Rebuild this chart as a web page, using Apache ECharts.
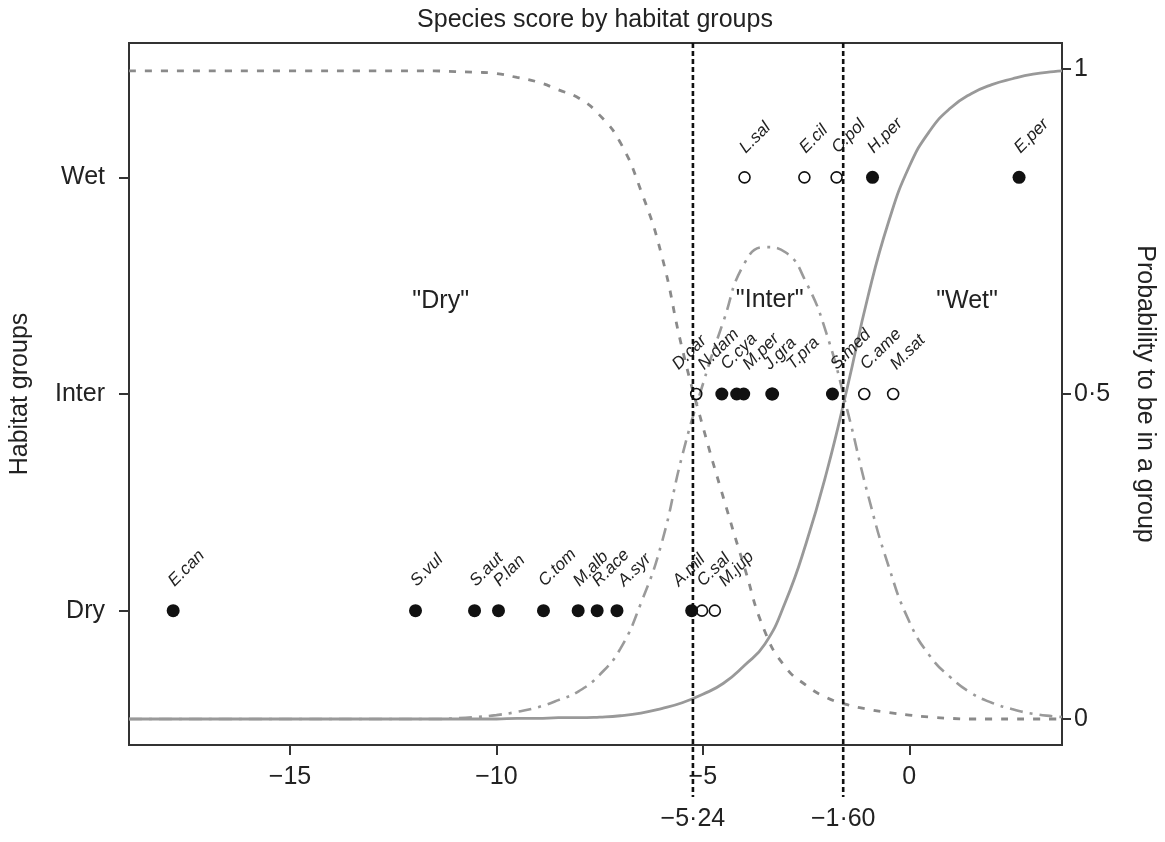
<!DOCTYPE html>
<html>
<head>
<meta charset="utf-8">
<script src="https://cdn.jsdelivr.net/npm/echarts@6/dist/echarts.min.js"></script>
<style>html,body{margin:0;padding:0;background:#fff}#c{width:1165px;height:842px}</style>
</head>
<body>
<div id="c"></div>
<script>
// ---------------- data ----------------
const groupNames = ['Dry', 'Inter', 'Wet'];
const groupLevel = [1 / 6, 0.5, 5 / 6];

const dryNames  = ['E.can','S.vul','S.aut','P.lan','C.tom','M.alb','R.ace','A.syr','A.mil','C.sal','M.jup'];
const dryScore  = [-17.83,-11.96,-10.53,-9.95,-8.86,-8.02,-7.56,-7.08,-5.27,-5.02,-4.71];
const dryFilled = [1,1,1,1,1,1,1,1,1,0,0];

const interNames  = ['D.car','N.dam','C.cya','M.per','J.gra','T.pra','S.med','C.ame','M.sat'];
const interScore  = [-5.16,-4.54,-4.18,-4.01,-3.33,-3.31,-1.86,-1.09,-0.39];
const interFilled = [0,1,1,1,1,1,1,0,0];

const wetNames  = ['L.sal','E.cil','C.pol','H.per','E.per'];
const wetScore  = [-3.99,-2.54,-1.76,-0.89,2.66];
const wetFilled = [0,0,0,1,1];

const cutPoints = [-5.24, -1.60];
const cutLabels = ['\u22125\u00b724', '\u22121\u00b760'];

const xTicks = [-15, -10, -5, 0];
const xTickLabels = ['\u221215', '\u221210', '\u22125', '0'];
const probTicks = [0, 0.5, 1];
const probTickLabels = ['0', '0\u00b75', '1'];

const curveX    = [-18.9,-15,-13,-11.5,-11,-10.5,-10,-9.5,-9,-8.5,-8,-7.5,-7,-6.5,-6,-5.5,-5,-4.5,-4,-3.5,-3,-2.5,-2,-1.5,-1,-0.5,0,0.5,1,1.5,2,2.5,3,3.5,3.7];
const probDry   = [0.997,0.997,0.997,0.997,0.996,0.995,0.993,0.987,0.98,0.968,0.955,0.929,0.887,0.813,0.714,0.57,0.45,0.34,0.235,0.135,0.08,0.052,0.033,0.022,0.015,0.01,0.006,0.003,0.001,0,0,0,0,0,0];
const probInter = [0,0,0,0,0.001,0.003,0.006,0.011,0.018,0.029,0.043,0.068,0.108,0.178,0.27,0.405,0.515,0.612,0.70,0.726,0.718,0.672,0.592,0.475,0.345,0.235,0.15,0.097,0.064,0.04,0.025,0.015,0.008,0.004,0.003];
const probWet   = [0,0,0,0,0,0,0,0.001,0.001,0.002,0.002,0.003,0.005,0.009,0.016,0.025,0.038,0.055,0.082,0.115,0.18,0.27,0.38,0.51,0.65,0.765,0.85,0.905,0.94,0.962,0.976,0.985,0.992,0.996,0.997];

const regionText = ['"Dry"', '"Inter"', '"Wet"'];
const regionX = [-11.35, -3.38, 1.40];
const regionY = [0.643, 0.645, 0.643];

// ---------------- layout (label nudges in px) ----------------
const labelNudge = {'A.syr':6,'A.mil':-14,'M.jup':9,'D.car':-19,'N.dam':-19,'C.cya':-11,'M.per':4,'J.gra':-3,'T.pra':19,'S.med':3,'C.ame':1,'M.sat':2};
const FONT = '"Liberation Sans", Arial, Helvetica, sans-serif';

const rows = [
  {names: dryNames, scores: dryScore, filled: dryFilled, level: groupLevel[0]},
  {names: interNames, scores: interScore, filled: interFilled, level: groupLevel[1]},
  {names: wetNames, scores: wetScore, filled: wetFilled, level: groupLevel[2]}
];
const filledPts = [], openPts = [], labelItems = [];
rows.forEach(r => {
  r.names.forEach((n, i) => {
    const pt = [r.scores[i], r.level];
    (r.filled[i] ? filledPts : openPts).push(pt);
    labelItems.push({value: pt, name: n});
  });
});

const zip = arr => curveX.map((x, i) => [x, arr[i]]);
const levelName = v => { const i = groupLevel.findIndex(g => Math.abs(g - v) < 1e-6); return i >= 0 ? groupNames[i] : ''; };
const lookup = (vals, labs) => v => { const i = vals.findIndex(g => Math.abs(g - v) < 1e-6); return i >= 0 ? labs[i] : ''; };

const chart = echarts.init(document.getElementById('c'), null, {renderer: 'canvas'});
const axisTxt = {fontSize: 25, color: '#222', fontFamily: FONT};
const tickStyle = {color: '#333', width: 2};

chart.setOption({
  animation: false,
  backgroundColor: '#fff',
  textStyle: {fontFamily: FONT},
  graphic: [{
    type: 'text', x: 595, y: 20,
    style: {text: 'Species score by habitat groups', font: '25px ' + FONT, fill: '#222', textAlign: 'center', textVerticalAlign: 'middle'}
  }],
  grid: {left: 128, right: 103, top: 43, bottom: 97, show: true, borderColor: '#333', borderWidth: 2, backgroundColor: 'transparent'},
  xAxis: [{
    type: 'value', min: -18.9, max: 3.7, position: 'bottom',
    axisLine: {show: false, onZero: false},
    axisTick: {show: true, length: 10, lineStyle: tickStyle, customValues: xTicks},
    axisLabel: Object.assign({customValues: xTicks, formatter: lookup(xTicks, xTickLabels), margin: 20}, axisTxt),
    splitLine: {show: false}
  }, {
    type: 'value', min: -18.9, max: 3.7, position: 'bottom', offset: 54,
    axisLine: {show: false, onZero: false}, axisTick: {show: false},
    axisLabel: Object.assign({customValues: cutPoints, formatter: lookup(cutPoints, cutLabels), margin: 8}, axisTxt),
    splitLine: {show: false}
  }],
  yAxis: [{
    type: 'value', min: -0.04, max: 1.04, position: 'left',
    axisLine: {show: false, onZero: false},
    axisTick: {show: true, length: 10, lineStyle: tickStyle, customValues: groupLevel},
    axisLabel: Object.assign({customValues: groupLevel, formatter: levelName, margin: 24}, axisTxt),
    splitLine: {show: false},
    name: 'Habitat groups', nameLocation: 'middle', nameGap: 96,
    nameTextStyle: {fontSize: 25, color: '#222', fontFamily: FONT}
  }, {
    type: 'value', min: -0.04, max: 1.04, position: 'right',
    axisLine: {show: false, onZero: false},
    axisTick: {show: true, length: 9, lineStyle: tickStyle, customValues: probTicks},
    axisLabel: Object.assign({customValues: probTicks, formatter: lookup(probTicks, probTickLabels), margin: 12}, axisTxt),
    splitLine: {show: false},
    name: 'Probability to be in a group', nameLocation: 'middle', nameGap: 70, nameRotate: -90,
    nameTextStyle: {fontSize: 25, color: '#222', fontFamily: FONT}
  }],
  series: [
    {type: 'line', name: 'Dry', data: zip(probDry), showSymbol: false, smooth: 0.5,
     lineStyle: {color: '#8a8a8a', width: 2.8, type: [7, 9], cap: 'butt'}, z: 2},
    {type: 'line', name: 'Inter', data: zip(probInter), showSymbol: false, smooth: 0.5,
     lineStyle: {color: '#9a9a9a', width: 2.6, type: [13, 7, 3, 7], cap: 'butt'}, z: 2},
    {type: 'line', name: 'Wet', data: zip(probWet), showSymbol: false, smooth: 0.5,
     lineStyle: {color: '#999', width: 2.8, type: 'solid'}, z: 2},
    {type: 'scatter', data: filledPts, symbol: 'circle', symbolSize: 13,
     itemStyle: {color: '#111', borderWidth: 0, opacity: 1}, z: 4},
    {type: 'scatter', data: openPts, symbol: 'circle', symbolSize: 11,
     itemStyle: {color: 'rgba(0,0,0,0)', borderColor: '#111', borderWidth: 1.6, opacity: 1}, z: 4},
    {type: 'custom', data: labelItems.map(d => d.value), z: 5, silent: true,
     renderItem: (params, api) => {
       const p = api.coord([api.value(0), api.value(1)]);
       const n = labelItems[params.dataIndex].name;
       const dx = 4 + (labelNudge[n] || 0);
       return {type: 'text', x: p[0] + dx, y: p[1] - 21, rotation: Math.PI / 4,
         style: {text: n, font: 'italic 17px ' + FONT, fill: '#222', textAlign: 'left', textVerticalAlign: 'bottom'}};
     }},
    {type: 'custom', data: regionX.map((x, i) => [x, regionY[i]]), z: 5, silent: true,
     renderItem: (params, api) => {
       const p = api.coord([api.value(0), api.value(1)]);
       return {type: 'text', x: p[0], y: p[1],
         style: {text: regionText[params.dataIndex], font: '25px ' + FONT, fill: '#222', textAlign: 'center', textVerticalAlign: 'middle'}};
     }},
    {type: 'custom', data: cutPoints.map(x => [x]), z: 6, silent: true, clip: false,
     renderItem: (params, api) => {
       const t = api.coord([api.value(0), 1.04]);
       const b = api.coord([api.value(0), -0.04]);
       return {type: 'line', shape: {x1: t[0], y1: t[1], x2: t[0], y2: b[1] + 52},
         style: {stroke: '#111', lineWidth: 2.6, lineDash: [5, 3]}};
     }}
  ]
});
</script>
</body>
</html>
